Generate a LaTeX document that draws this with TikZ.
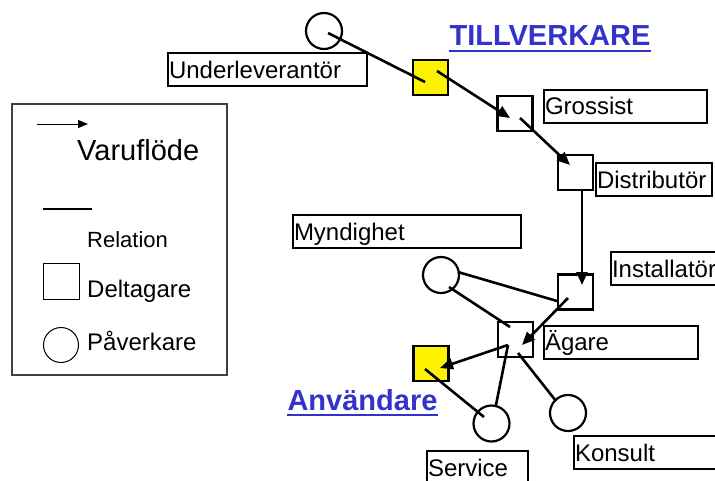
\documentclass[tikz,border=0pt]{standalone}
\usepackage{fontspec}
\setmainfont{Liberation Sans}
\usepackage{tikz}
\usetikzlibrary{arrows.meta}
\definecolor{titleblue}{RGB}{51,51,204}

\begin{document}
\begin{tikzpicture}[x=1pt,y=-1pt]

\tikzset{part/.style={draw, line width=2.2pt, minimum size=35pt, inner sep=0pt},
  infl/.style={circle, draw, line width=2.2pt, minimum size=36pt, inner sep=0pt},
  lab/.style={draw, line width=2pt, inner xsep=1pt, inner ysep=0pt,
    minimum height=33pt, text width=#1, align=left, text height=20pt,
    text depth=3pt, font=\fontsize{24}{28}\selectfont},
  flow/.style={line width=2.6pt, -{Triangle[length=13pt,width=11pt]}},
  rel/.style={line width=2.6pt},
  title/.style={inner sep=0pt, text=titleblue, font=\bfseries\fontsize{29}{33}\selectfont},
  titleline/.style={draw=titleblue, line width=2pt},
  legtext/.style={inner sep=0pt, anchor=base west, font=\fontsize{#1}{#1}\selectfont}
}
\clip (0,0) rectangle (715,480);

% legend
\draw[draw=black!75, line width=1.3pt] (12,104) rectangle (227,375);
\coordinate (va) at (37,124);
\coordinate (vb) at (88,124);
\draw[line width=1pt, -{Triangle[length=10pt,width=8pt]}] (va) -- (vb);
\node[legtext=29] (varu) at (77,160) {Varuflöde};
\coordinate (ra) at (43,209);
\coordinate (rb) at (92,209);
\draw[line width=1.4pt] (ra) -- (rb);
\node[legtext=22] (rela) at (87,247) {Relation};
\node[draw, line width=1pt, minimum size=36pt, inner sep=0pt] (legsq) at (61.5,281) {};
\node[legtext=24] (delt) at (87,297) {Deltagare};
\node[circle, draw, line width=1pt, minimum size=35pt, inner sep=0pt] (legci) at (61,345) {};
\node[legtext=24] (paver) at (87,350) {Påverkare};

% titles
\node[title, anchor=base] (till) at (550,45) {TILLVERKARE};
\draw[titleline] ([yshift=-6pt]till.base west) -- ([yshift=-6pt]till.base east);
\node[title, anchor=base] (anvt) at (362.5,410) {Användare};
\draw[titleline] ([yshift=-5pt]anvt.base west) -- ([yshift=-5pt]anvt.base east);

% labels
\node[lab=197pt] (ulab) at (267.5,69.5) {Underleverantör};
\node[lab=161pt] (glab) at (625.5,106) {Grossist};
\node[lab=114pt] (dlab) at (654,179.5) {Distributör};
\node[lab=226pt] (mlab) at (407,231.5) {Myndighet};
\node[lab=108pt] (ilab) at (666,268.5) {Installatör};
\node[lab=152pt] (alab) at (621,342) {Ägare};
\node[lab=99pt] (slab) at (477.5,467.5) {Service};
\node[lab=145pt] (klab) at (647.5,452.5) {Konsult};

% actors
\node[infl] (ul) at (324,31) {};
\node[part, fill=yellow] (tillv) at (430.5,77.5) {};
\node[part] (gro) at (515,113.5) {};
\node[part] (dis) at (575.5,172.5) {};
\node[part] (ins) at (575.5,292) {};
\node[infl] (myn) at (441,275) {};
\node[part] (aga) at (515.5,339.5) {};
\node[part, fill=yellow] (anv) at (431,363.5) {};
\node[infl] (ser) at (491.5,423.5) {};
\node[infl] (kon) at (568,413) {};

% connectors
\draw[rel] ([shift={(4,2)}]ul.center) -- ([shift={(-5.5,4.5)}]tillv.center);
\draw[flow] ([shift={(6.5,-6.5)}]tillv.center) -- ([shift={(-5,4.5)}]gro.center);
\draw[flow] ([shift={(5,4.5)}]gro.center) -- ([shift={(-5.5,-7.5)}]dis.center);
\draw[flow] ([shift={(6.5,18.5)}]dis.center) -- ([shift={(6.5,-7)}]ins.center);
\draw[flow] ([shift={(-7.5,6)}]ins.center) -- ([shift={(6.5,5.5)}]aga.center);
\draw[rel] ([shift={(17,-3)}]myn.center) -- ([shift={(-18.5,9)}]ins.center);
\draw[rel] ([shift={(8,12)}]myn.center) -- ([shift={(-5.5,-12.5)}]aga.center);
\draw[flow] ([shift={(-7.5,5.5)}]aga.center) -- ([shift={(9,4.5)}]anv.center);
\draw[rel] ([shift={(-7.5,5.5)}]aga.center) -- ([shift={(4.5,-18.5)}]ser.center);
\draw[rel] ([shift={(-6,5.5)}]anv.center) -- ([shift={(-7.5,-6.5)}]ser.center);
\draw[rel] ([shift={(2.5,13.5)}]aga.center) -- ([shift={(-12,-12)}]kon.center);

\end{tikzpicture}
\end{document}
